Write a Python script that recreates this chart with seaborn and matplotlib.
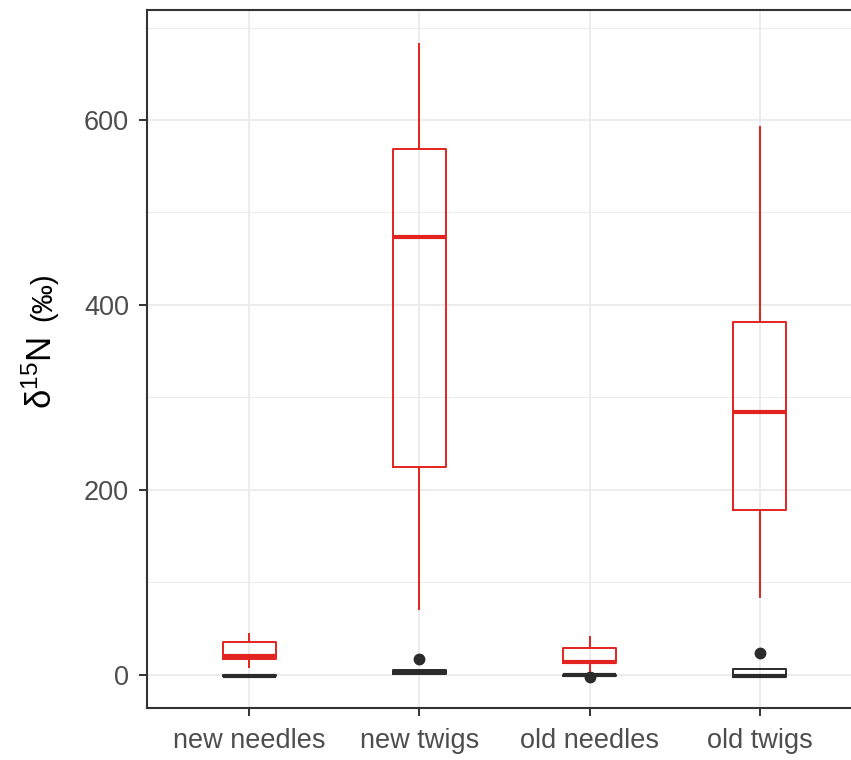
import matplotlib
matplotlib.use("Agg")
import matplotlib.pyplot as plt
from matplotlib.ticker import MultipleLocator
import pandas as pd
import seaborn as sns

# Tissue categories and treatment groups
tissues = ["new needles", "new twigs", "old needles", "old twigs"]
treatments = ["control", "labelled"]
colors = {"control": "#2b2b2b", "labelled": "#E3231F"}

# δ15N observations (‰) per tissue, control trees
control_new_needles = [-2.5, -2.0, -1.8, -1.2, -1.0, -0.5, 0.0, 0.3, 0.5]
control_new_twigs = [-0.5, 0.5, 1.0, 2.0, 3.0, 4.0, 5.0, 5.5, 17.0]
control_old_needles = [-2.8, -1.2, -1.0, -0.9, -0.8, -0.7, -0.6, -0.5, -0.3]
control_old_twigs = [-3.0, -2.5, -2.0, -1.5, -1.0, 2.0, 6.5, 7.0, 23.0]

# δ15N observations (‰) per tissue, labelled trees
labelled_new_needles = [7.5, 12.0, 17.0, 18.5, 20.0, 28.0, 35.0, 40.0, 45.0]
labelled_new_twigs = [70.0, 150.0, 225.0, 390.0, 473.0, 520.0, 569.0, 620.0, 683.0]
labelled_old_needles = [3.0, 8.0, 13.0, 13.5, 14.0, 22.0, 29.0, 36.0, 42.0]
labelled_old_twigs = [83.0, 130.0, 178.0, 230.0, 284.0, 330.0, 382.0, 480.0, 594.0]

# y-axis ticks
y_major = [0, 200, 400, 600]

series = {
    ("control", "new needles"): control_new_needles,
    ("control", "new twigs"): control_new_twigs,
    ("control", "old needles"): control_old_needles,
    ("control", "old twigs"): control_old_twigs,
    ("labelled", "new needles"): labelled_new_needles,
    ("labelled", "new twigs"): labelled_new_twigs,
    ("labelled", "old needles"): labelled_old_needles,
    ("labelled", "old twigs"): labelled_old_twigs,
}
rows = []
for (trt, tis), vals in series.items():
    for v in vals:
        rows.append({"treatment": trt, "tissue": tis, "d15N": v})
df = pd.DataFrame(rows)

sns.set_style("white")
plt.rcParams["font.family"] = ["Liberation Sans", "DejaVu Sans"]
plt.rcParams["mathtext.fontset"] = "custom"
plt.rcParams["mathtext.rm"] = "Liberation Sans"
plt.rcParams["mathtext.it"] = "Liberation Sans:italic"

fig = plt.figure(figsize=(8.51, 7.60), dpi=100)
ax = fig.add_axes([147 / 851, 1 - 708 / 760, 715 / 851, 698 / 760])

sns.boxplot(
    data=df, x="tissue", y="d15N", hue="treatment",
    order=tissues, hue_order=treatments, palette=colors,
    dodge=False, width=0.31, fill=False, linewidth=1.4,
    showcaps=False, whis=1.5, legend=False, ax=ax,
    medianprops=dict(linewidth=3.0),
    flierprops=dict(marker="o", markersize=7.5, markerfacecolor="#2b2b2b",
                    markeredgecolor="#2b2b2b"),
)

ax.set_xlim(-0.6, 3.6)
ax.set_ylim(-36, 719)
ax.set_yticks(y_major)
ax.yaxis.set_minor_locator(MultipleLocator(100))
ax.set_axisbelow(True)
ax.grid(True, which="major", color="#ebebeb", linewidth=1.3)
ax.grid(True, which="minor", axis="y", color="#ebebeb", linewidth=0.7)

for side in ["left", "bottom", "top", "right"]:
    ax.spines[side].set_visible(True)
    ax.spines[side].set_color("#333333")
    ax.spines[side].set_linewidth(1.5)

ax.tick_params(axis="both", which="major", length=5.5, width=1.4,
               color="#333333", labelcolor="#4d4d4d", labelsize=19.5,
               direction="out", bottom=True, left=True)
ax.tick_params(axis="x", pad=9)
ax.tick_params(axis="y", pad=7.5)
ax.tick_params(which="minor", length=0)

ax.set_xlabel("")
ax.set_ylabel(r"$\mathregular{\delta^{15}N}$", fontsize=25, color="black",
              ha="center", va="center")
ax.yaxis.set_label_coords(-0.147, 0.48)
ax.text(-0.1448, 0.5895, "(‰)", transform=ax.transAxes, rotation=90,
        fontsize=21, color="black", ha="center", va="center")

fig.savefig("out.png", dpi=100)
